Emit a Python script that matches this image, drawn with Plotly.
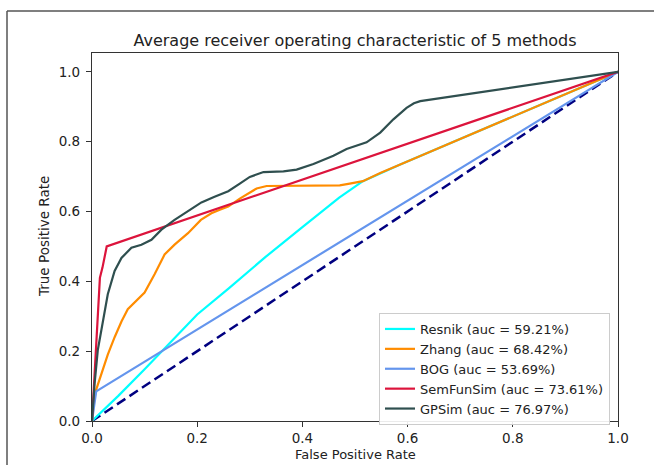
import plotly.graph_objects as go

# ---- data ----
diag_fpr = [0, 1]
diag_tpr = [0, 1]

resnik_fpr = [0, 0.05, 0.1, 0.15, 0.2, 0.26, 0.33, 0.4, 0.47, 0.515, 0.548, 0.586, 1.0]
resnik_tpr = [0, 0.072, 0.148, 0.225, 0.305, 0.38, 0.47, 0.555, 0.64, 0.687, 0.71, 0.735, 1.0]

zhang_fpr = [0, 0.004, 0.008, 0.018, 0.03, 0.043, 0.056, 0.068, 0.085, 0.1, 0.119, 0.138,
             0.157, 0.1825, 0.207, 0.227, 0.243, 0.259, 0.281, 0.3, 0.313, 0.332, 0.4,
             0.471, 0.49, 0.515, 0.548, 0.586, 0.624, 1.0]
zhang_tpr = [0, 0.06, 0.09, 0.137, 0.19, 0.24, 0.285, 0.32, 0.345, 0.368, 0.42, 0.477,
             0.505, 0.538, 0.576, 0.595, 0.605, 0.614, 0.637, 0.655, 0.666, 0.673, 0.673,
             0.675, 0.68, 0.687, 0.71, 0.735, 0.759, 1.0]

bog_fpr = [0, 0.008, 1.0]
bog_tpr = [0, 0.085, 1.0]

sem_fpr = [0, 0.004, 0.008, 0.015, 0.02, 0.028, 1.0]
sem_tpr = [0, 0.1, 0.22, 0.41, 0.44, 0.5, 1.0]

gps_fpr = [0, 0.005, 0.011, 0.021, 0.03, 0.043, 0.056, 0.075, 0.094, 0.113, 0.132, 0.157,
           0.1825, 0.208, 0.233, 0.259, 0.281, 0.30, 0.326, 0.364, 0.389, 0.421, 0.459,
           0.484, 0.522, 0.548, 0.573, 0.598, 0.612, 0.624, 1.0]
gps_tpr = [0, 0.108, 0.203, 0.288, 0.363, 0.43, 0.467, 0.496, 0.505, 0.519, 0.548, 0.576,
           0.6, 0.626, 0.642, 0.658, 0.68, 0.699, 0.713, 0.715, 0.72, 0.736, 0.76,
           0.779, 0.798, 0.826, 0.864, 0.897, 0.91, 0.916, 1.0]

names = ["Resnik (auc = 59.21%)", "Zhang (auc = 68.42%)", "BOG (auc = 53.69%)",
         "SemFunSim (auc = 73.61%)", "GPSim (auc = 76.97%)"]
colors = ["#00FFFF", "#FF8C00", "#6495ED", "#DC143C", "#2F4F4F"]
series = [(resnik_fpr, resnik_tpr), (zhang_fpr, zhang_tpr), (bog_fpr, bog_tpr),
          (sem_fpr, sem_tpr), (gps_fpr, gps_tpr)]
tick_vals = [0, 0.2, 0.4, 0.6, 0.8, 1.0]
tick_text = ["0.0", "0.2", "0.4", "0.6", "0.8", "1.0"]

FONT = "DejaVu Sans"

fig = go.Figure()
fig.add_trace(go.Scatter(x=diag_fpr, y=diag_tpr, mode="lines", showlegend=False,
                         line=dict(color="#000080", width=2.5, dash="10px,5px")))
for (xs, ys), n, c in zip(series, names, colors):
    fig.add_trace(go.Scatter(x=xs, y=ys, mode="lines", name=n,
                             line=dict(color=c, width=2.2)))

L, R, T, B = 92, 36, 53, 44
W, H = 654, 465
pw = W - L - R
ph = H - T - B

fig.update_layout(
    width=W, height=H,
    margin=dict(l=L, r=R, t=T, b=B),
    paper_bgcolor="white", plot_bgcolor="white",
    font=dict(family=FONT, size=13, color="#222"),
    title=dict(text="Average receiver operating characteristic of 5 methods",
               x=(L + pw / 2) / W, xanchor="center",
               y=1 - 40 / H, yanchor="middle",
               font=dict(family=FONT, size=16, color="#222")),
    xaxis=dict(range=[0, 1], tickvals=tick_vals, ticktext=tick_text,
               showgrid=False, zeroline=False, showline=True, mirror=True,
               linecolor="#333", linewidth=1.2, ticks="outside", ticklen=5,
               tickcolor="#333", ticklabelstandoff=0, automargin=False,
               tickfont=dict(family=FONT, size=13.5)),
    yaxis=dict(range=[0, 1.054], tickvals=tick_vals, ticktext=tick_text,
               showgrid=False, zeroline=False, showline=True, mirror=True,
               linecolor="#333", linewidth=1.2, ticks="outside", ticklen=5,
               tickcolor="#333", ticklabelstandoff=3, automargin=False,
               tickfont=dict(family=FONT, size=13.5)),
    legend=dict(x=(610 - L) / pw, xanchor="right", y=(H - B - 313) / ph, yanchor="top",
                bgcolor="rgba(255,255,255,0.9)", bordercolor="#ccc", borderwidth=1,
                font=dict(family=FONT, size=13, color="#222"),
                tracegroupgap=0),
    annotations=[
        dict(text="False Positive Rate", xref="paper", yref="paper",
             x=0.5, y=(H - B - 464) / ph, xanchor="center", yanchor="bottom",
             showarrow=False, font=dict(family=FONT, size=13, color="#222")),
        dict(text="True Positive Rate", xref="paper", yref="paper",
             x=(44 - L) / pw, y=0.5, xanchor="center", yanchor="middle",
             textangle=-90, showarrow=False,
             font=dict(family=FONT, size=13.5, color="#222")),
    ],
    shapes=[
        dict(type="line", xref="paper", yref="paper",
             x0=(7 - L) / pw, x1=(W + 5 - L) / pw,
             y0=(H - B - 11) / ph, y1=(H - B - 11) / ph,
             line=dict(color="#555", width=1.5)),
        dict(type="line", xref="paper", yref="paper",
             x0=(7 - L) / pw, x1=(7 - L) / pw,
             y0=(H - B - 11) / ph, y1=(H - B - H - 5) / ph,
             line=dict(color="#555", width=1.5)),
    ],
)

fig.write_html("out.html")
